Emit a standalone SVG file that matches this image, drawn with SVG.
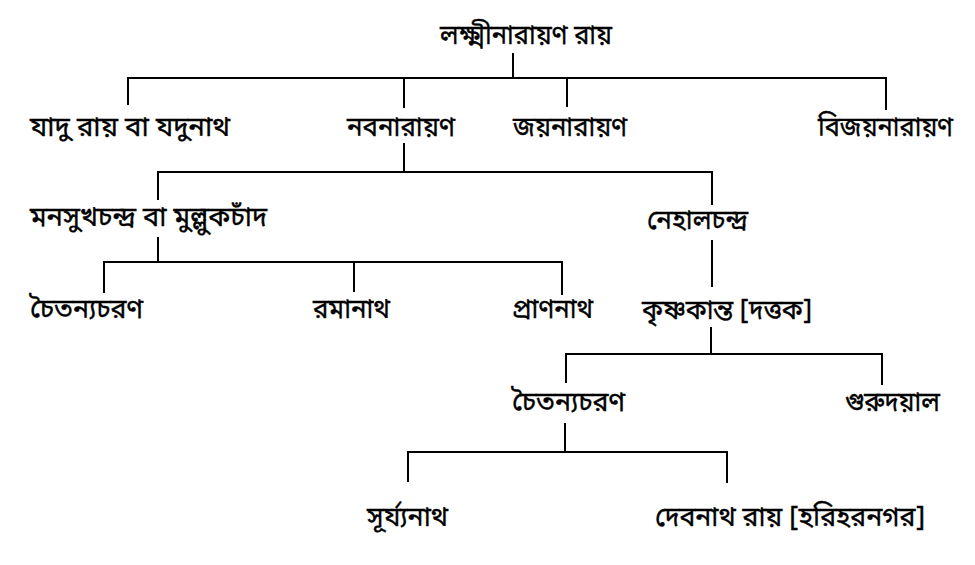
<svg xmlns="http://www.w3.org/2000/svg" width="975" height="565" viewBox="0 0 975 565">
<style>
.t{font-family:"Noto Sans Bengali","Noto Serif Bengali","Lohit Bengali","Noto Sans","DejaVu Sans",sans-serif;font-size:27px;fill:#000;stroke:#000;stroke-width:0.4px}
.c{stroke:#000;stroke-width:2;fill:none}
</style>
<rect width="975" height="565" fill="#fff"/>
<g id="connectors" class="c">
<path d="M513,53V79"/>
<path d="M128,105V78H886V110"/>
<path d="M404,78V108"/>
<path d="M567,79V107"/>
<path d="M404,143V172"/>
<path d="M158,200V172H712V205"/>
<path d="M158,237V262"/>
<path d="M104,293V262H562V295"/>
<path d="M354,262V292"/>
<path d="M712,240V287"/>
<path d="M711,327V354"/>
<path d="M566,383V354H882V385"/>
<path d="M565,423V452"/>
<path d="M408,482V452H727V483"/>
</g>
<g id="n-root"><text class="t" x="440" y="44" textLength="172" lengthAdjust="spacingAndGlyphs">লক্ষ্মীনারায়ণ রায়</text></g>
<g id="n-jadu"><text class="t" x="30" y="136" textLength="200" lengthAdjust="spacingAndGlyphs">যাদু রায় বা যদুনাথ</text></g>
<g id="n-naba"><text class="t" x="347" y="136" textLength="108" lengthAdjust="spacingAndGlyphs">নবনারায়ণ</text></g>
<g id="n-jaya"><text class="t" x="513" y="136" textLength="114" lengthAdjust="spacingAndGlyphs">জয়নারায়ণ</text></g>
<g id="n-bijaya"><text class="t" x="818" y="136" textLength="135" lengthAdjust="spacingAndGlyphs">বিজয়নারায়ণ</text></g>
<g id="n-manasukh"><text class="t" x="30" y="226" textLength="237" lengthAdjust="spacingAndGlyphs">মনসুখচন্দ্র বা মুল্লুকচাঁদ</text></g>
<g id="n-nehal"><text class="t" x="647" y="229" textLength="101" lengthAdjust="spacingAndGlyphs">নেহালচন্দ্র</text></g>
<g id="n-chaitanya1"><text class="t" x="30" y="318" textLength="113" lengthAdjust="spacingAndGlyphs">চৈতন্যচরণ</text></g>
<g id="n-rama"><text class="t" x="313" y="318" textLength="77" lengthAdjust="spacingAndGlyphs">রমানাথ</text></g>
<g id="n-prana"><text class="t" x="512" y="318" textLength="81" lengthAdjust="spacingAndGlyphs">প্রাণনাথ</text></g>
<g id="n-krishna"><text class="t" x="642" y="319" textLength="170" lengthAdjust="spacingAndGlyphs">কৃষ্ণকান্ত [দত্তক]</text></g>
<g id="n-chaitanya2"><text class="t" x="512" y="411" textLength="113" lengthAdjust="spacingAndGlyphs">চৈতন্যচরণ</text></g>
<g id="n-guru"><text class="t" x="845" y="411" textLength="95" lengthAdjust="spacingAndGlyphs">গুরুদয়াল</text></g>
<g id="n-surya"><text class="t" x="367" y="526" textLength="81" lengthAdjust="spacingAndGlyphs">সূর্য্যনাথ</text></g>
<g id="n-deba"><text class="t" x="655" y="526" textLength="270" lengthAdjust="spacingAndGlyphs">দেবনাথ রায় [হরিহরনগর]</text></g>
</svg>
